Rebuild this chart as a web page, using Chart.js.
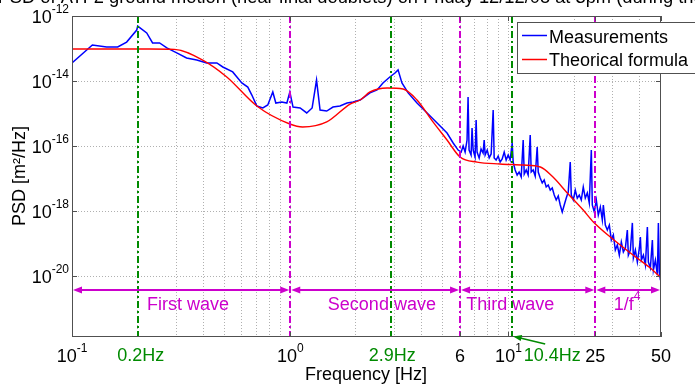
<!DOCTYPE html>
<html>
<head>
<meta charset="utf-8">
<script src="https://cdn.jsdelivr.net/npm/chart.js@4"></script>
<style>
html, body { margin: 0; padding: 0; background: #fff; }
</style>
</head>
<body>
<canvas id="psd" width="695" height="385"></canvas>
<script>
var measFreq = [0.1, 0.124, 0.144, 0.162, 0.178, 0.198, 0.200, 0.220, 0.234, 0.252,
  0.272, 0.302, 0.335, 0.373, 0.414, 0.461, 0.491, 0.545, 0.600, 0.639,
  0.667, 0.703, 0.749, 0.789, 0.832, 0.859, 0.915, 0.965, 0.996, 1.03,
  1.11, 1.19, 1.26, 1.32, 1.37, 1.47, 1.57, 1.69, 1.82, 1.94,
  2.09, 2.32, 2.50, 2.66, 2.86, 3.02, 3.12, 3.25, 3.47, 3.81,
  4.24, 4.71, 5.23, 5.58,
  5.88, 6.07, 6.20, 6.33, 6.46, 6.53, 6.60, 6.74, 6.81, 6.89,
  7.03, 7.11, 7.18, 7.34, 7.49, 7.65, 7.74, 7.82, 7.99, 8.16,
  8.33, 8.51, 8.60, 8.78, 8.97, 9.16, 9.36, 9.56, 9.76, 9.97,
  10.18, 10.40, 10.51, 10.73, 10.96, 11.19, 11.44, 11.68, 11.81, 12.06,
  12.31, 12.58, 12.71, 12.98, 13.26, 13.54, 13.69, 13.98, 14.28, 14.58,
  14.89, 15.21, 15.54, 15.87, 16.21, 16.55, 16.91, 17.27, 17.64, 18.01,
  18.40, 18.79, 19.19, 19.40, 19.82, 20.24, 20.67, 21.11, 21.56, 22.02,
  22.49, 22.98, 23.46, 23.97, 24.22, 24.74, 25.27, 25.80, 26.36, 26.92,
  27.21, 27.79, 28.38, 28.99, 29.61, 30.24, 30.88, 31.54, 32.21, 32.90,
  33.61, 34.33, 35.05, 35.43, 36.19, 36.96, 37.36, 38.15, 38.96, 39.80,
  40.22, 40.65, 41.52, 42.41, 43.30, 43.76, 44.70, 45.65, 46.14, 47.13,
  48.13, 48.64, 49.16, 49.69];
var measPsd = [3.6e-14, 1.28e-13, 1.11e-13, 1.11e-13, 1.58e-13, 3.7e-13, 4.9e-13, 3.0e-13, 1.48e-13, 1.48e-13,
  1.04e-13, 7.3e-14, 5.1e-14, 4.4e-14, 3.6e-14, 3.6e-14, 2.7e-14, 1.9e-14, 8.7e-15, 6.5e-15,
  3.7e-15, 1.7e-15, 1.48e-15, 1.83e-15, 4.6e-15, 2.1e-15, 2.26e-15, 2.1e-15, 4.6e-15, 1.58e-15,
  1.48e-15, 1.04e-15, 1.48e-15, 1.07e-14, 1.28e-15, 1.19e-15, 1.58e-15, 1.7e-15, 2.1e-15, 2.26e-15,
  2.6e-15, 4.3e-15, 5.3e-15, 8.7e-15, 1.33e-14, 1.76e-14, 2.2e-14, 8.7e-15, 4.3e-15, 2.1e-15,
  1.04e-15, 5.1e-16, 2.5e-16, 1.24e-16,
  7.5e-17, 6.5e-17, 1.0e-16, 6.5e-17, 1.53e-16, 3.22e-15, 7.5e-17, 5.3e-17, 3.58e-16, 7.5e-17,
  4.6e-17, 6.3e-16, 6.5e-17, 4.3e-17, 8.1e-17, 6.1e-17, 1.53e-16, 5.3e-17, 7.5e-17, 4.3e-17,
  5.7e-17, 1.28e-15, 4.3e-17, 3.7e-17, 4.9e-17, 3.2e-17, 4.0e-17, 6.5e-17, 3.7e-17, 5.3e-17,
  3.7e-17, 1.24e-16, 3.2e-17, 1.83e-17, 1.28e-17, 1.58e-17, 1.11e-17, 1.53e-16, 1.37e-17, 1.83e-17,
  1.28e-17, 2.18e-16, 1.58e-17, 1.83e-17, 1.19e-17, 9.3e-17, 1.58e-17, 1.04e-17, 7.3e-18, 9.0e-18,
  5.5e-18, 6.3e-18, 4.4e-18, 5.1e-18, 3.1e-18, 2.18e-18, 2.9e-18, 1.53e-18, 9.3e-19, 1.53e-18,
  2.5e-18, 3.85e-18, 3.2e-17, 3.1e-18, 2.18e-18, 4.4e-18, 2.5e-18, 3.1e-18, 2.18e-18, 5.5e-18,
  2.5e-18, 3.6e-18, 1.76e-18, 7.5e-17, 1.53e-18, 9.3e-19, 2.18e-18, 7.5e-19, 1.33e-18, 5.3e-19,
  1.53e-18, 3.7e-19, 2.6e-19, 3.7e-19, 1.28e-19, 1.83e-19, 6.3e-20, 9.0e-20, 4.4e-20, 1.11e-19,
  5.5e-20, 7.3e-20, 2.6e-19, 4.4e-20, 6.3e-20, 4.3e-19, 3.6e-20, 6.3e-20, 2.7e-20, 7.3e-20,
  1.58e-19, 3.1e-20, 4.4e-20, 2.18e-20, 3.2e-19, 2.7e-20, 1.76e-20, 1.28e-19, 1.53e-20, 3.1e-20,
  1.07e-20, 4.3e-19, 1.33e-20, 7.5e-21];

// theoretical formula (red)
var theoFreq = [0.1, 0.134, 0.184, 0.227, 0.295, 0.397, 0.512, 0.703, 0.996, 1.14,
  1.47, 1.88, 2.09, 2.32, 2.78, 3.29, 3.81, 4.51, 5.23, 6.0,
  7.18, 9.15, 11.7, 14.0, 16.0, 18.6, 22.0, 24.5, 29.3, 36.2,
  44.7, 50];
var theoPsd = [9.7e-14, 9.7e-14, 9.7e-14, 9.7e-14, 9.4e-14, 4.4e-14, 1.33e-14, 1.7e-15, 4.75e-16, 3.85e-16,
  5.5e-16, 1.95e-15, 2.6e-15, 4.6e-15, 6.1e-15, 5.7e-15, 2.6e-15, 5.5e-16, 1.53e-16, 4.6e-17,
  3.2e-17, 2.8e-17, 2.6e-17, 2.26e-17, 1.11e-17, 3.6e-18, 1.07e-18, 4.6e-19, 1.58e-19, 5.1e-20,
  1.76e-20, 8.9e-21];

// axis ticks
var xGrid = [0.2, 0.3, 0.4, 0.5, 0.6, 0.7, 0.8, 0.9, 1, 2, 3, 4, 5, 6, 7, 8, 9, 10, 20, 30, 40];
var xTickVals = [0.1, 1, 6, 10, 25, 50];
var xTickBase = ['10', '10', '6', '10', '25', '50'];
var xTickExp = ['-1', '0', '', '1', '', ''];
var yTickVals = [1e-12, 1e-14, 1e-16, 1e-18, 1e-20];
var yTickExp = ['-12', '-14', '-16', '-18', '-20'];

// annotations
var markerFreq = [0.2, 2.9, 10.4];
var markerLabels = ['0.2Hz', '2.9Hz', '10.4Hz'];
var bandEdges = [0.1, 1, 6, 25, 50];
var bandLabels = ['First wave', 'Second wave', 'Third wave', '1/f'];
var bandLabelFreq = [0.34, 2.63, 10.2, 35];

var titleText = 'PSD of ATF2 ground motion (near final doublets) on Friday 12/12/08 at 3pm (during the day)';

var FONT = '"Liberation Sans", Arial, sans-serif';
var GREEN = '#008a00';
var MAGENTA = '#cc00cc';

function toPts(xs, ys) {
  var out = [];
  for (var i = 0; i < xs.length; i++) out.push({x: xs[i], y: ys[i]});
  return out;
}

function powText(ctx, base, exp, x, y, align) {
  ctx.font = '18px ' + FONT;
  var wb = ctx.measureText(base).width;
  ctx.font = '12px ' + FONT;
  var we = exp ? ctx.measureText(exp).width : 0;
  var total = wb + we;
  var x0 = align === 'right' ? x - total : x - total / 2;
  ctx.textAlign = 'left';
  ctx.textBaseline = 'alphabetic';
  ctx.font = '18px ' + FONT;
  ctx.fillText(base, x0, y);
  if (exp) {
    ctx.font = '12px ' + FONT;
    ctx.fillText(exp, x0 + wb, y - 10);
  }
}

function arrowHead(ctx, x, y, dir) {
  ctx.beginPath();
  ctx.moveTo(x, y);
  ctx.lineTo(x - dir * 9, y - 3.5);
  ctx.lineTo(x - dir * 9, y + 3.5);
  ctx.closePath();
  ctx.fill();
}

var decor = {
  id: 'decor',
  afterDatasetsDraw: function(chart) {
    var ctx = chart.ctx, a = chart.chartArea;
    var xs = chart.scales.x, ys = chart.scales.y;
    ctx.save();

    // vertical dash-dot lines
    ctx.lineWidth = 2;
    ctx.setLineDash([7, 3, 2, 3]);
    markerFreq.forEach(function(f) {
      var px = Math.round(xs.getPixelForValue(f));
      ctx.strokeStyle = GREEN;
      ctx.beginPath(); ctx.moveTo(px, a.top); ctx.lineTo(px, a.bottom); ctx.stroke();
    });
    bandEdges.slice(1, 4).forEach(function(f) {
      var px = Math.round(xs.getPixelForValue(f));
      ctx.strokeStyle = MAGENTA;
      ctx.beginPath(); ctx.moveTo(px, a.top); ctx.lineTo(px, a.bottom); ctx.stroke();
    });
    ctx.setLineDash([]);

    // band arrows
    var ay = 290;
    ctx.strokeStyle = MAGENTA;
    ctx.fillStyle = MAGENTA;
    ctx.lineWidth = 2;
    for (var i = 0; i < bandEdges.length - 1; i++) {
      var x1 = xs.getPixelForValue(bandEdges[i]) + 1;
      var x2 = xs.getPixelForValue(bandEdges[i + 1]) - 1;
      ctx.beginPath(); ctx.moveTo(x1 + 4, ay); ctx.lineTo(x2 - 4, ay); ctx.stroke();
      arrowHead(ctx, x1, ay, -1);
      arrowHead(ctx, x2, ay, 1);
    }
    ctx.font = '18px ' + FONT;
    ctx.textBaseline = 'alphabetic';
    ctx.textAlign = 'center';
    for (var j = 0; j < bandLabels.length; j++) {
      var lx = xs.getPixelForValue(bandLabelFreq[j]);
      if (j === 3) {
        powText(ctx, bandLabels[j], '4', lx, 310, 'center');
        ctx.font = '18px ' + FONT;
        ctx.textAlign = 'center';
      } else {
        ctx.fillText(bandLabels[j], lx, 310);
      }
    }

    // box and tick marks
    ctx.strokeStyle = '#505050';
    ctx.lineWidth = 1;
    ctx.strokeRect(a.left + 0.5, a.top + 0.5, a.right - a.left - 1, a.bottom - a.top - 1);
    ctx.beginPath();
    yTickVals.forEach(function(v) {
      var py = Math.round(ys.getPixelForValue(v)) + 0.5;
      ctx.moveTo(a.left, py); ctx.lineTo(a.left + 5, py);
      ctx.moveTo(a.right, py); ctx.lineTo(a.right - 5, py);
    });
    xTickVals.forEach(function(v) {
      var px = Math.round(xs.getPixelForValue(v)) + 0.5;
      ctx.moveTo(px, a.bottom); ctx.lineTo(px, a.bottom - 5);
      ctx.moveTo(px, a.top); ctx.lineTo(px, a.top + 5);
    });
    ctx.stroke();

    // tick labels
    ctx.fillStyle = '#000';
    for (var k = 0; k < xTickVals.length; k++) {
      powText(ctx, xTickBase[k], xTickExp[k], xs.getPixelForValue(xTickVals[k]), 362, 'center');
    }
    for (var m = 0; m < yTickVals.length; m++) {
      powText(ctx, '10', yTickExp[m], 69, ys.getPixelForValue(yTickVals[m]) + 7, 'right');
    }

    // green frequency labels
    ctx.fillStyle = GREEN;
    ctx.font = '18px ' + FONT;
    ctx.textAlign = 'center';
    var g0 = xs.getPixelForValue(markerFreq[0]);
    var g1 = xs.getPixelForValue(markerFreq[1]);
    var g2 = xs.getPixelForValue(markerFreq[2]);
    ctx.fillText(markerLabels[0], g0 + 3, 361);
    ctx.fillText(markerLabels[1], g1 + 1, 361);
    ctx.fillText(markerLabels[2], g2 + 40, 361);
    ctx.strokeStyle = GREEN;
    ctx.lineWidth = 1.5;
    ctx.beginPath(); ctx.moveTo(g2 + 33, 344); ctx.lineTo(g2 + 6, 337.5); ctx.stroke();
    ctx.beginPath();
    ctx.moveTo(g2 + 1, 336.5);
    ctx.lineTo(g2 + 10, 335);
    ctx.lineTo(g2 + 8.5, 341);
    ctx.closePath(); ctx.fill();

    // axis titles
    ctx.fillStyle = '#000';
    ctx.font = '18px ' + FONT;
    ctx.textAlign = 'center';
    ctx.fillText('Frequency [Hz]', 366, 380);
    ctx.save();
    ctx.translate(25, 176);
    ctx.rotate(-Math.PI / 2);
    ctx.fillText('PSD [m\u00b2/Hz]', 0, 0);
    ctx.restore();

    // title (clipped by the top edge)
    ctx.textAlign = 'left';
    ctx.textBaseline = 'alphabetic';
    ctx.font = '18.3px ' + FONT;
    var pre = ctx.measureText('PSD of ATF2 ground motion ').width;
    ctx.fillText(titleText, 231 - pre, 3);

    // legend
    ctx.fillStyle = '#fff';
    ctx.fillRect(517, 22, 190, 51);
    ctx.strokeStyle = '#505050';
    ctx.lineWidth = 1;
    ctx.strokeRect(517.5, 22.5, 190, 51);
    ctx.lineWidth = 1.5;
    ctx.strokeStyle = '#0000ff';
    ctx.beginPath(); ctx.moveTo(522, 35.5); ctx.lineTo(547, 35.5); ctx.stroke();
    ctx.strokeStyle = '#ff0000';
    ctx.beginPath(); ctx.moveTo(522, 59.5); ctx.lineTo(547, 59.5); ctx.stroke();
    ctx.fillStyle = '#000';
    ctx.font = '18px ' + FONT;
    ctx.fillText('Measurements', 549, 43);
    ctx.fillText('Theorical formula', 549, 66);

    ctx.restore();
  }
};

new Chart(document.getElementById('psd'), {
  type: 'line',
  data: {
    datasets: [{
      label: 'Theorical formula',
      data: toPts(theoFreq, theoPsd),
      borderColor: '#ff0000',
      borderWidth: 1.4,
      pointRadius: 0,
      tension: 0.4,
      cubicInterpolationMode: 'monotone'
    }, {
      label: 'Measurements',
      data: toPts(measFreq, measPsd),
      borderColor: '#0000ff',
      borderWidth: 1.5,
      pointRadius: 0,
      tension: 0
    }]
  },
  options: {
    responsive: false,
    animation: false,
    devicePixelRatio: 1,
    layout: { padding: { left: 72, top: 16, right: 34, bottom: 48 } },
    plugins: { legend: { display: false }, title: { display: false }, tooltip: { enabled: false } },
    scales: {
      x: {
        type: 'logarithmic', min: 0.1, max: 50,
        ticks: { display: false },
        grid: { drawTicks: false, color: '#b0b0b0', lineWidth: 1 },
        border: { display: false, dash: [1, 2] },
        afterBuildTicks: function(s) { s.ticks = xGrid.map(function(v) { return {value: v}; }); }
      },
      y: {
        type: 'logarithmic', min: 1.33e-22, max: 1e-12,
        ticks: { display: false },
        grid: { drawTicks: false, color: '#b0b0b0', lineWidth: 1 },
        border: { display: false, dash: [1, 2] },
        afterBuildTicks: function(s) { s.ticks = yTickVals.slice(1).map(function(v) { return {value: v}; }); }
      }
    }
  },
  plugins: [decor]
});
</script>
</body>
</html>
